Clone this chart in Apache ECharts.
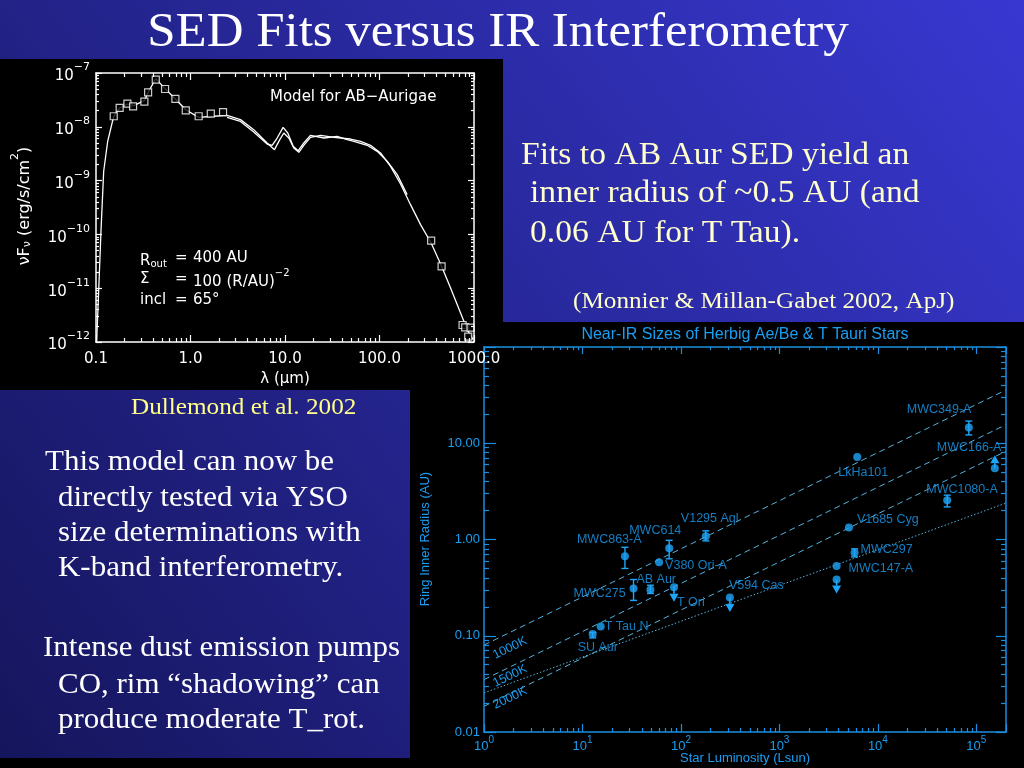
<!DOCTYPE html>
<html><head><meta charset="utf-8">
<script src="https://cdn.jsdelivr.net/npm/echarts@6/dist/echarts.min.js"></script>
<style>html,body{margin:0;padding:0;background:#000;}#c{width:1024px;height:768px;}</style>
</head><body><div id="c"></div>
<script>
// ---------- SED (left panel) data: wavelength (micron), nuFnu (erg/s/cm^2) ----------
const sedModel = [[0.1016,1.03e-12],[0.1067,8.75e-12],[0.1129,1.14e-10],[0.1206,1.49e-9],[0.1329,5.37e-9],
  [0.154,1.57e-8],[0.178,2.24e-8],[0.215,2.65e-8],[0.2506,2.47e-8],[0.325,3.06e-8],[0.361,4.56e-8],[0.429,7.85e-8],
  [0.538,5.12e-8],[0.692,3.29e-8],[0.891,2.08e-8],[1.22,1.50e-8],[1.76,1.57e-8],[2.44,1.63e-8],[3.38,1.36e-8],
  [4.67,8.85e-9],[6.47,5.0e-9],[7.73,3.76e-9],[8.81,5.77e-9],[9.71,7.67e-9],[10.97,6.19e-9],[12.4,4.04e-9],
  [14.0,3.35e-9],[15.8,4.53e-9],[18.6,6.37e-9],[23.8,6.94e-9],[32.9,6.37e-9],[49.3,5.93e-9],[63.0,5.37e-9],
  [80.4,4.53e-9],[102.6,3.26e-9],[131,1.84e-9],[167,8.65e-10],[213,3.57e-10],[272,1.52e-10],[352,6.92e-11],
  [454,2.55e-11],[565,1.01e-11],[721,3.46e-12],[849,1.69e-12],[982,1.10e-12]];
const sedSpectrum = [[2.44,1.50e-8],[3.38,1.26e-8],[4.67,8.0e-9],[6.47,4.79e-9],[7.31,4.53e-9],[8.26,6.19e-9],
  [9.55,9.77e-9],[10.7,7.67e-9],[12.2,4.34e-9],[13.8,3.6e-9],[15.8,5.0e-9],[18.6,6.94e-9],[25.8,6.19e-9],
  [35.6,6.65e-9],[45.5,5.77e-9],[53.6,5.37e-9],[74.1,4.53e-9],[94.6,3.5e-9],[121,2.28e-9],[154,1.29e-9],[196,5.48e-10]];
const sedPhotometry = [[0.154,1.57e-8],[0.178,2.24e-8],[0.215,2.69e-8],[0.247,2.40e-8],[0.325,2.93e-8],
  [0.356,4.38e-8],[0.429,7.5e-8],[0.538,5.04e-8],[0.692,3.29e-8],[0.891,2.02e-8],[1.22,1.57e-8],[1.64,1.75e-8],
  [2.21,1.88e-8],[352,7.65e-11],[454,2.55e-11],[757,2.07e-12],[807,1.87e-12],[869,1.26e-12],[920,1.85e-12]];
const sedXTickLabels = ['0.1','1.0','10.0','100.0','1000.0'];
const sedYTickExponents = [-12,-11,-10,-9,-8,-7];

// ---------- Near-IR sizes (right panel) ----------
const starNames  = ['MWC863-A','MWC614','V380 Ori-A','AB Aur','MWC275','T Ori','T Tau N','SU Aur','V1295 Aql',
  'LkHa101','MWC349-A','MWC166-A','MWC1080-A','V1685 Cyg','MWC297','MWC147-A','V594 Cas'];
const starLum    = [27, 76, 60, 49, 33, 85, 15.3, 12.7, 179, 6170, 83900, 154000, 50600, 5080, 5800, 3810, 314];
const starRadius = [0.67, 0.81, 0.58, 0.30, 0.31, 0.32, 0.125, 0.104, 1.08, 7.2, 14.6, 5.5, 2.56, 1.33, 0.73, 0.53, 0.25];
const errLow     = [0.50, 0.63, null, 0.275, 0.233, null, null, 0.095, 0.967, null, 12.2, null, 2.18, null, 0.66, null, null];
const errHigh    = [0.83, 0.98, null, 0.335, 0.384, null, null, 0.108, 1.23, null, 17.0, null, 2.89, null, 0.80, null, null];
const extraLum = [3810];
const extraRadius = [0.384];
const limitLum  = [85, 314, 3810, 154000];
const limitFrom = [0.321, 0.249, 0.384, 5.5];
const limitTo   = [0.225, 0.177, 0.274, 7.5];
const tempLineLum = [1, 200000];
const line1000K = [0.080, 35.8];
const line1500K = [0.035, 15.6];
const line2000K = [0.0185, 8.27];
const lineDotted = [0.0255, 2.39];
const radiusTickLabels = ['0.01','0.10','1.00','10.00',''];
const lumMax = 200000;

// ---------- styling (label offsets in px relative to point centre) ----------
const labelOffsets = [[-48,-17],[-40,-18],[6,3],[-14,-10],[-60,5],[3,15],[4,0],[-15,13],[-25,-18],
  [-19,16],[-62,-18],[-58,-21],[-21,-11],[8,-8],[6,-3],[12,3],[-1,-12]];
const BLUE = '#1a9ef2', MARK = '#1ea6fa', AXB = '#1a8ee0', LINEB = '#56b2dc';
const SANS = 'Liberation Sans', SED_FONT = 'DejaVu Sans', SERIF = 'Liberation Serif';

function minorLogTicks(d0, d1, maxV) {
  const out = [];
  for (let d = d0; d < d1; d++) for (let k = 2; k <= 9; k++) {
    const v = d + Math.log10(k);
    if (v <= maxV + 1e-9) out.push(v);
  }
  return out;
}
function helperAxis(gridIndex, position, min, max, opts) {
  return Object.assign({
    type: 'value', gridIndex: gridIndex, position: position, min: min, max: max, interval: 1,
    axisLine: {show: false, onZero: false}, axisTick: {show: false}, axisLabel: {show: false},
    splitLine: {show: false}, silent: true, z: 5
  }, opts);
}
const sedLine = {show: true, onZero: false, lineStyle: {color: '#fff', width: 1.5}};
const rLine = {show: true, onZero: false, lineStyle: {color: AXB, width: 1.5}};
function tick(len, color, custom) {
  const t = {show: true, inside: true, length: len, lineStyle: {color: color, width: 1.2}};
  if (custom) t.customValues = custom;
  return t;
}
const lumLogMax = Math.log10(lumMax);
const sedXMinor = minorLogTicks(-1, 3, 3), sedYMinor = minorLogTicks(-12, -7, -7);
const rXMinor = minorLogTicks(0, 6, lumLogMax), rYMinor = minorLogTicks(-2, 2, 2);

const xAxis = [
  {type: 'log', gridIndex: 0, min: 0.1, max: 1000, show: false},
  helperAxis(0, 'bottom', -1, 3, {axisLine: sedLine, axisTick: tick(7, '#fff'),
    axisLabel: {show: true, margin: 10, color: '#fff', fontFamily: SED_FONT, fontSize: 15, showMinLabel: true, showMaxLabel: true,
      formatter: v => sedXTickLabels[Math.round(v) + 1]}}),
  helperAxis(0, 'bottom', -1, 3, {axisTick: tick(4, '#fff', sedXMinor)}),
  helperAxis(0, 'top', -1, 3, {axisLine: sedLine, axisTick: tick(7, '#fff')}),
  helperAxis(0, 'top', -1, 3, {axisTick: tick(4, '#fff', sedXMinor)}),
  {type: 'log', gridIndex: 1, min: 1, max: lumMax, show: false},
  helperAxis(1, 'bottom', 0, lumLogMax, {axisLine: rLine, axisTick: tick(8, AXB),
    axisLabel: {show: true, margin: 3, showMinLabel: true, showMaxLabel: true,
      formatter: v => { const r = Math.round(v); return Math.abs(v - r) > 1e-6 ? '' : '{b|10}{s|' + r + '}'; },
      rich: {b: {fontFamily: SANS, fontSize: 13, color: BLUE, lineHeight: 18, verticalAlign: 'bottom'},
             s: {fontFamily: SANS, fontSize: 10, color: BLUE, lineHeight: 10, verticalAlign: 'top'}}}}),
  helperAxis(1, 'bottom', 0, lumLogMax, {axisTick: tick(4, AXB, rXMinor)}),
  helperAxis(1, 'top', 0, lumLogMax, {axisLine: rLine, axisTick: tick(7, AXB)}),
  helperAxis(1, 'top', 0, lumLogMax, {axisTick: tick(3, AXB, rXMinor)})
];
const yAxis = [
  {type: 'log', gridIndex: 0, min: 1e-12, max: 1e-7, show: false},
  helperAxis(0, 'left', -12, -7, {axisLine: sedLine, axisTick: tick(6, '#fff'),
    axisLabel: {show: true, margin: 6, showMinLabel: true, showMaxLabel: true,
      formatter: v => { const e = sedYTickExponents[Math.round(v) + 12]; return '{b|10}{s|' + (e < 0 ? '\u2212' : '') + Math.abs(e) + '}'; },
      rich: {b: {fontFamily: SED_FONT, fontSize: 15, color: '#fff', lineHeight: 22, verticalAlign: 'bottom'},
             s: {fontFamily: SED_FONT, fontSize: 11, color: '#fff', lineHeight: 12, verticalAlign: 'top'}}}}),
  helperAxis(0, 'left', -12, -7, {axisTick: tick(3, '#fff', sedYMinor)}),
  helperAxis(0, 'right', -12, -7, {axisLine: sedLine, axisTick: tick(6, '#fff')}),
  helperAxis(0, 'right', -12, -7, {axisTick: tick(3, '#fff', sedYMinor)}),
  {type: 'log', gridIndex: 1, min: 0.01, max: 100, show: false},
  helperAxis(1, 'left', -2, 2, {axisLine: rLine, axisTick: tick(12, AXB),
    axisLabel: {show: true, margin: 4, color: BLUE, fontFamily: SANS, fontSize: 13, showMinLabel: true, showMaxLabel: true,
      formatter: v => radiusTickLabels[Math.round(v) + 2]}}),
  helperAxis(1, 'left', -2, 2, {axisTick: tick(5, AXB, rYMinor)}),
  helperAxis(1, 'right', -2, 2, {axisLine: rLine, axisTick: tick(10, AXB)}),
  helperAxis(1, 'right', -2, 2, {axisTick: tick(5, AXB, rYMinor)})
];

function tempLine(vals, dash) {
  return {type: 'line', xAxisIndex: 5, yAxisIndex: 5, symbol: 'none', silent: true, z: 3,
    data: tempLineLum.map((l, i) => [l, vals[i]]),
    lineStyle: {color: LINEB, width: 1, type: dash}};
}
const errData = [];
starLum.forEach((l, i) => { if (errLow[i] != null) errData.push([l, errLow[i], errHigh[i]]); });

const series = [
  {type: 'line', xAxisIndex: 0, yAxisIndex: 0, data: sedModel, symbol: 'none', lineStyle: {color: '#fff', width: 1.3}, z: 3},
  {type: 'line', xAxisIndex: 0, yAxisIndex: 0, data: sedSpectrum, symbol: 'none', lineStyle: {color: '#fff', width: 1.3}, z: 3},
  {type: 'scatter', xAxisIndex: 0, yAxisIndex: 0, data: sedPhotometry, symbol: 'rect', symbolSize: 7, z: 4,
    itemStyle: {color: '#000', borderColor: '#fff', borderWidth: 1.2}},
  tempLine(line1000K, [6, 4]),
  tempLine(line1500K, [6, 4]),
  tempLine(line2000K, [6, 4]),
  tempLine(lineDotted, [1.5, 2]),
  {type: 'custom', xAxisIndex: 5, yAxisIndex: 5, data: errData, encode: {x: 0, y: [1, 2]}, z: 4,
    renderItem: function (params, api) {
      const x = api.value(0);
      const a = api.coord([x, api.value(1)]), b = api.coord([x, api.value(2)]);
      const w = 3.5, st = {stroke: MARK, lineWidth: 1.4};
      return {type: 'group', children: [
        {type: 'line', shape: {x1: a[0], y1: a[1], x2: b[0], y2: b[1]}, style: st},
        {type: 'line', shape: {x1: a[0] - w, y1: a[1], x2: a[0] + w, y2: a[1]}, style: st},
        {type: 'line', shape: {x1: b[0] - w, y1: b[1], x2: b[0] + w, y2: b[1]}, style: st}]};
    }},
  {type: 'custom', xAxisIndex: 5, yAxisIndex: 5, z: 4, encode: {x: 0, y: [1, 2]},
    data: limitLum.map((l, i) => [l, limitFrom[i], limitTo[i]]),
    renderItem: function (params, api) {
      const x = api.value(0);
      const a = api.coord([x, api.value(1)]), b = api.coord([x, api.value(2)]);
      const dir = b[1] > a[1] ? 1 : -1, h = 8, w = 4.5;
      return {type: 'group', children: [
        {type: 'line', shape: {x1: a[0], y1: a[1], x2: b[0], y2: b[1] - dir * h}, style: {stroke: MARK, lineWidth: 1.6}},
        {type: 'polygon', shape: {points: [[b[0], b[1]], [b[0] - w, b[1] - dir * h], [b[0] + w, b[1] - dir * h]]}, style: {fill: MARK}}]};
    }},
  {type: 'scatter', xAxisIndex: 5, yAxisIndex: 5, symbol: 'circle', symbolSize: 8, z: 5,
    itemStyle: {color: MARK},
    label: {show: true, formatter: '{b}', color: BLUE, fontFamily: SANS, fontSize: 12.5},
    data: starNames.map((n, i) => ({name: n, value: [starLum[i], starRadius[i]],
      label: {position: 'inside', offset: labelOffsets[i], align: 'left', verticalAlign: 'middle'}}))},
  {type: 'scatter', xAxisIndex: 5, yAxisIndex: 5, symbol: 'circle', symbolSize: 8, z: 5,
    itemStyle: {color: MARK}, data: extraLum.map((l, i) => [l, extraRadius[i]])}
];

function txt(text, x, y, font, fill, extra) {
  extra = extra || {};
  return {type: 'text', x: x, y: y, z: 10, silent: true, rotation: extra.rotation || 0, scaleX: extra.scaleX || 1,
    style: Object.assign({text: text, font: font, fill: fill, verticalAlign: 'middle', align: 'left'}, extra.style || {})};
}
const serifF = s => s + 'px "' + SERIF + '"';
const sedF = s => s + 'px "' + SED_FONT + '"';
const sansF = s => s + 'px "' + SANS + '"';
const sedRich = {
  sub: {font: sedF(10), fill: '#fff', lineHeight: 10, verticalAlign: 'bottom'},
  sup: {font: sedF(10), fill: '#fff', lineHeight: 10, verticalAlign: 'top'},
  n: {font: sedF(15), fill: '#fff', lineHeight: 22, verticalAlign: 'bottom'}
};
const yRich = {
  sub: {font: sedF(11), fill: '#fff', lineHeight: 10, verticalAlign: 'bottom'},
  sup: {font: sedF(11), fill: '#fff', lineHeight: 10, verticalAlign: 'top'},
  n: {font: sedF(16), fill: '#fff', lineHeight: 23, verticalAlign: 'bottom'}
};
const rot26 = 26 * Math.PI / 180;
const SX = 1.05;

const graphic = [
  {type: 'rect', z: -100, silent: true, shape: {x: 0, y: 0, width: 1024, height: 768},
    style: {fill: new echarts.graphic.LinearGradient(0, 1, 1, 0, [{offset: 0, color: '#15155c'}, {offset: 1, color: '#3838d2'}])}},
  {type: 'rect', z: -90, silent: true, shape: {x: 0, y: 758, width: 1024, height: 10}, style: {fill: '#000'}},
  {type: 'rect', z: -90, silent: true, shape: {x: 410, y: 322, width: 614, height: 446}, style: {fill: '#000'}},
  {type: 'rect', z: -89, silent: true, shape: {x: 0, y: 59, width: 503, height: 331}, style: {fill: '#000'}},
  txt('SED Fits versus IR Interferometry', 498, 33, serifF(48.5), '#fff', {scaleX: SX, style: {align: 'center'}}),
  txt('Fits to AB Aur SED yield an', 521, 156, serifF(32), '#ffffcc', {scaleX: SX}),
  txt('inner radius of ~0.5 AU (and', 530, 194, serifF(32), '#ffffcc', {scaleX: SX}),
  txt('0.06 AU for T Tau).', 530, 234, serifF(32), '#ffffcc', {scaleX: SX}),
  txt('(Monnier & Millan-Gabet 2002, ApJ)', 573, 302, serifF(24), '#ffffcc', {scaleX: SX}),
  txt('Dullemond et al. 2002', 131, 408, serifF(24), '#ffff88', {scaleX: SX}),
  txt('This model can now be', 45, 462, serifF(29.5), '#fff', {scaleX: SX}),
  txt('directly tested via YSO', 58, 498, serifF(29.5), '#fff', {scaleX: SX}),
  txt('size determinations with', 58, 533, serifF(29.5), '#fff', {scaleX: SX}),
  txt('K-band interferometry.', 58, 568, serifF(29.5), '#fff', {scaleX: SX}),
  txt('Intense dust emission pumps', 43, 648, serifF(29.5), '#fff', {scaleX: SX}),
  txt('CO, rim \u201cshadowing\u201d can', 58, 685, serifF(29.5), '#fff', {scaleX: SX}),
  txt('produce moderate T_rot.', 58, 720, serifF(29.5), '#fff', {scaleX: SX}),
  // SED annotations
  txt('Model for AB\u2212Aurigae', 270, 97, sedF(15), '#fff'),
  txt('{n|R}{sub|out}', 140, 258, sedF(15), '#fff', {style: {rich: sedRich}}),
  txt('=', 175, 258, sedF(15), '#fff'),
  txt('400 AU', 193, 258, sedF(15), '#fff'),
  txt('\u03a3', 140, 279, sedF(15), '#fff'),
  txt('=', 175, 279, sedF(15), '#fff'),
  txt('{n|100 (R/AU)}{sup|\u22122}', 193, 279, sedF(15), '#fff', {style: {rich: sedRich}}),
  txt('incl', 140, 300, sedF(15), '#fff'),
  txt('=', 175, 300, sedF(15), '#fff'),
  txt('65\u00b0', 193, 300, sedF(15), '#fff'),
  txt('{n|\u03bdF}{sub|\u03bd}{n| (erg/s/cm}{sup|2}{n|)}', 21, 206, sedF(16), '#fff', {rotation: Math.PI / 2, style: {rich: yRich, align: 'center'}}),
  txt('\u03bb (\u03bcm)', 285, 379, sedF(15), '#fff', {style: {align: 'center'}}),
  // right chart texts
  txt('Near-IR Sizes of Herbig Ae/Be & T Tauri Stars', 745, 335, sansF(16), BLUE, {style: {align: 'center'}}),
  txt('Ring Inner Radius (AU)', 425, 539, sansF(13), BLUE, {rotation: Math.PI / 2, style: {align: 'center'}}),
  txt('Star Luminosity (Lsun)', 745, 758, sansF(13), BLUE, {style: {align: 'center'}}),
  txt('1000K', 510, 648, sansF(12.5), BLUE, {rotation: rot26, style: {align: 'center'}}),
  txt('1500K', 510, 676, sansF(12.5), BLUE, {rotation: rot26, style: {align: 'center'}}),
  txt('2000K', 510, 698, sansF(12.5), BLUE, {rotation: rot26, style: {align: 'center'}})
];

const chart = echarts.init(document.getElementById('c'), null, {renderer: 'canvas'});
chart.setOption({
  animation: false,
  grid: [
    {left: 96, top: 73, width: 378, height: 269, containLabel: false, outerBoundsMode: 'none'},
    {left: 484, top: 347, width: 522, height: 385, containLabel: false, outerBoundsMode: 'none'}
  ],
  xAxis: xAxis, yAxis: yAxis, series: series, graphic: graphic
});
</script></body></html>
